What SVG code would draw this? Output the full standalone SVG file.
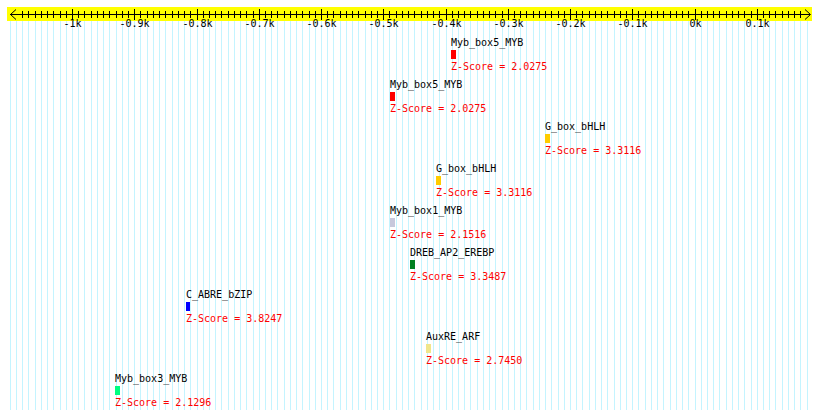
<svg xmlns="http://www.w3.org/2000/svg" width="820" height="419" viewBox="0 0 820 419">
<style>
text{font-family:"DejaVu Sans Mono","Liberation Mono",monospace;font-size:10px}
.lbl{fill:#000}
.z{fill:#ff0000}
.tl{fill:#000;text-anchor:middle}
.grid{stroke:#c4f4ff;stroke-width:1;fill:none}
.ax{stroke:#000;stroke-width:1;fill:none}
</style>
<rect width="820" height="419" fill="#fff"/>
<g id="grid">
<path class="grid" d="M10.5 21V410M16.5 21V410M22.5 21V410M28.5 21V410M35.5 21V410M41.5 21V410M47.5 21V410M53.5 21V410M60.5 21V410M66.5 21V410M72.5 21V410M78.5 21V410M84.5 21V410M91.5 21V410M97.5 21V410M103.5 21V410M109.5 21V410M116.5 21V410M122.5 21V410M128.5 21V410M134.5 21V410M140.5 21V410M147.5 21V410M153.5 21V410M159.5 21V410M165.5 21V410M172.5 21V410M178.5 21V410M184.5 21V410M190.5 21V410M197.5 21V410M203.5 21V410M209.5 21V410M215.5 21V410M221.5 21V410M228.5 21V410M234.5 21V410M240.5 21V410M246.5 21V410M253.5 21V410M259.5 21V410M265.5 21V410M271.5 21V410M277.5 21V410M284.5 21V410M290.5 21V410M296.5 21V410M302.5 21V410M309.5 21V410M315.5 21V410M321.5 21V410M327.5 21V410M333.5 21V410M340.5 21V410M346.5 21V410M352.5 21V410M358.5 21V410M365.5 21V410M371.5 21V410M377.5 21V410M383.5 21V410M389.5 21V410M396.5 21V410M402.5 21V410M408.5 21V410M414.5 21V410M421.5 21V410M427.5 21V410M433.5 21V410M439.5 21V410M446.5 21V410M452.5 21V410M458.5 21V410M464.5 21V410M470.5 21V410M477.5 21V410M483.5 21V410M489.5 21V410M495.5 21V410M502.5 21V410M508.5 21V410M514.5 21V410M520.5 21V410M526.5 21V410M533.5 21V410M539.5 21V410M545.5 21V410M551.5 21V410M558.5 21V410M564.5 21V410M570.5 21V410M576.5 21V410M582.5 21V410M589.5 21V410M595.5 21V410M601.5 21V410M607.5 21V410M614.5 21V410M620.5 21V410M626.5 21V410M632.5 21V410M638.5 21V410M645.5 21V410M651.5 21V410M657.5 21V410M663.5 21V410M670.5 21V410M676.5 21V410M682.5 21V410M688.5 21V410M695.5 21V410M701.5 21V410M707.5 21V410M713.5 21V410M719.5 21V410M726.5 21V410M732.5 21V410M738.5 21V410M744.5 21V410M751.5 21V410M757.5 21V410M763.5 21V410M769.5 21V410M775.5 21V410M782.5 21V410M788.5 21V410M794.5 21V410M800.5 21V410M807.5 21V410"/>
</g>
<g id="axis">
<rect x="7" y="7" width="805" height="14" fill="#ffff00"/>
<path class="ax" d="M10 14.5H810M16 9.5L10.5 14.5L16 19.5M805 9.5L810.5 14.5L805 19.5"/>
<path class="ax" d="M22.5 11V18M28.5 11V18M35.5 11V18M41.5 11V18M47.5 11V18M53.5 11V18M60.5 11V18M66.5 11V18M78.5 11V18M84.5 11V18M91.5 11V18M97.5 11V18M103.5 11V18M109.5 11V18M116.5 11V18M122.5 11V18M128.5 11V18M140.5 11V18M147.5 11V18M153.5 11V18M159.5 11V18M165.5 11V18M172.5 11V18M178.5 11V18M184.5 11V18M190.5 11V18M203.5 11V18M209.5 11V18M215.5 11V18M221.5 11V18M228.5 11V18M234.5 11V18M240.5 11V18M246.5 11V18M253.5 11V18M265.5 11V18M271.5 11V18M277.5 11V18M284.5 11V18M290.5 11V18M296.5 11V18M302.5 11V18M309.5 11V18M315.5 11V18M327.5 11V18M333.5 11V18M340.5 11V18M346.5 11V18M352.5 11V18M358.5 11V18M365.5 11V18M371.5 11V18M377.5 11V18M389.5 11V18M396.5 11V18M402.5 11V18M408.5 11V18M414.5 11V18M421.5 11V18M427.5 11V18M433.5 11V18M439.5 11V18M452.5 11V18M458.5 11V18M464.5 11V18M470.5 11V18M477.5 11V18M483.5 11V18M489.5 11V18M495.5 11V18M502.5 11V18M514.5 11V18M520.5 11V18M526.5 11V18M533.5 11V18M539.5 11V18M545.5 11V18M551.5 11V18M558.5 11V18M564.5 11V18M576.5 11V18M582.5 11V18M589.5 11V18M595.5 11V18M601.5 11V18M607.5 11V18M614.5 11V18M620.5 11V18M626.5 11V18M638.5 11V18M645.5 11V18M651.5 11V18M657.5 11V18M663.5 11V18M670.5 11V18M676.5 11V18M682.5 11V18M688.5 11V18M701.5 11V18M707.5 11V18M713.5 11V18M719.5 11V18M726.5 11V18M732.5 11V18M738.5 11V18M744.5 11V18M751.5 11V18M763.5 11V18M769.5 11V18M775.5 11V18M782.5 11V18M788.5 11V18M794.5 11V18M800.5 11V18"/>
<path class="ax" d="M72.5 9V20M134.5 9V20M197.5 9V20M259.5 9V20M321.5 9V20M383.5 9V20M446.5 9V20M508.5 9V20M570.5 9V20M632.5 9V20M695.5 9V20M757.5 9V20"/>
<text class="tl" x="72.5" y="27">-1k</text>
<text class="tl" x="134.5" y="27">-0.9k</text>
<text class="tl" x="197.5" y="27">-0.8k</text>
<text class="tl" x="259.5" y="27">-0.7k</text>
<text class="tl" x="321.5" y="27">-0.6k</text>
<text class="tl" x="383.5" y="27">-0.5k</text>
<text class="tl" x="446.5" y="27">-0.4k</text>
<text class="tl" x="508.5" y="27">-0.3k</text>
<text class="tl" x="570.5" y="27">-0.2k</text>
<text class="tl" x="632.5" y="27">-0.1k</text>
<text class="tl" x="695.5" y="27">0k</text>
<text class="tl" x="757.5" y="27">0.1k</text>
</g>
<g id="node1"><text class="lbl" x="451" y="46">Myb_box5_MYB</text><rect x="451" y="50" width="5" height="9" fill="#ff0000"/><text class="z" x="451" y="70">Z-Score = 2.0275</text></g>
<g id="node2"><text class="lbl" x="390" y="88">Myb_box5_MYB</text><rect x="390" y="92" width="5" height="9" fill="#ff0000"/><text class="z" x="390" y="112">Z-Score = 2.0275</text></g>
<g id="node3"><text class="lbl" x="545" y="130">G_box_bHLH</text><rect x="545" y="134" width="5" height="9" fill="#ffcc00"/><text class="z" x="545" y="154">Z-Score = 3.3116</text></g>
<g id="node4"><text class="lbl" x="436" y="172">G_box_bHLH</text><rect x="436" y="176" width="5" height="9" fill="#ffcc00"/><text class="z" x="436" y="196">Z-Score = 3.3116</text></g>
<g id="node5"><text class="lbl" x="390" y="214">Myb_box1_MYB</text><rect x="390" y="218" width="5" height="9" fill="#c8c8dc"/><text class="z" x="390" y="238">Z-Score = 2.1516</text></g>
<g id="node6"><text class="lbl" x="410" y="256">DREB_AP2_EREBP</text><rect x="410" y="260" width="5" height="9" fill="#008020"/><text class="z" x="410" y="280">Z-Score = 3.3487</text></g>
<g id="node7"><text class="lbl" x="186" y="298">C_ABRE_bZIP</text><rect x="186" y="302" width="4" height="9" fill="#0000ff"/><text class="z" x="186" y="322">Z-Score = 3.8247</text></g>
<g id="node8"><text class="lbl" x="426" y="340">AuxRE_ARF</text><rect x="426" y="344" width="5" height="9" fill="#f0e68c"/><text class="z" x="426" y="364">Z-Score = 2.7450</text></g>
<g id="node9"><text class="lbl" x="115" y="382">Myb_box3_MYB</text><rect x="115" y="386" width="5" height="9" fill="#00ff80"/><text class="z" x="115" y="406">Z-Score = 2.1296</text></g>
</svg>
